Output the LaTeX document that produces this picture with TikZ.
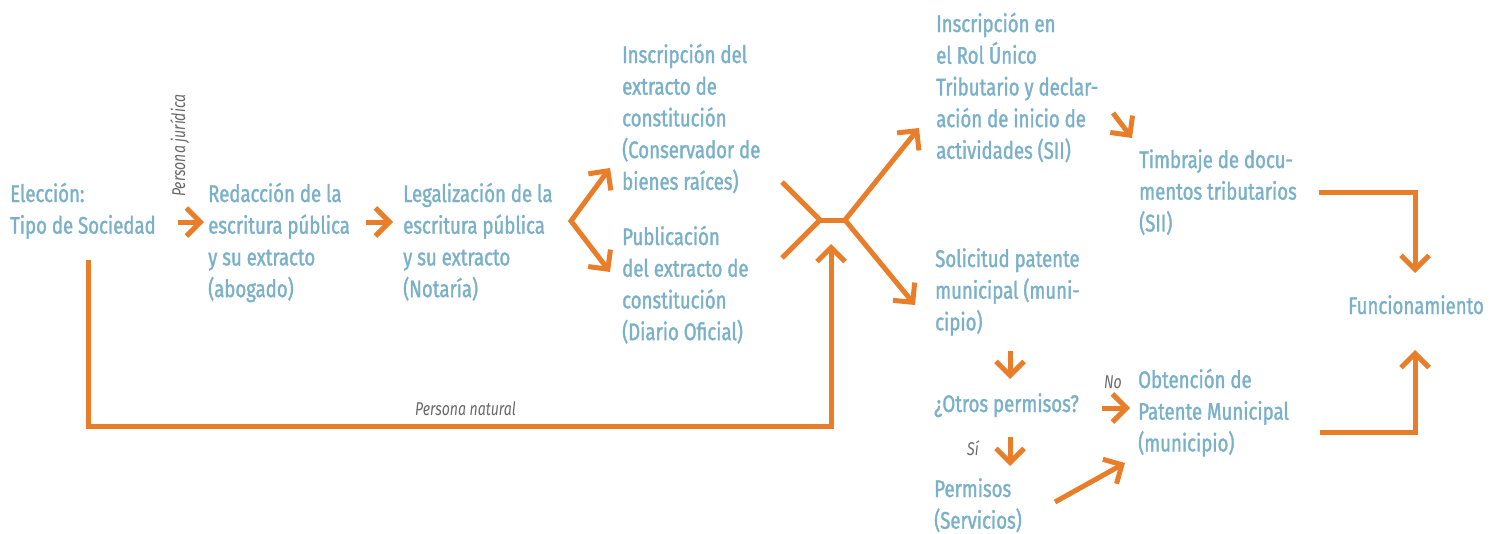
\documentclass[tikz,border=0pt]{standalone}
\usepackage{fontspec}
\setmainfont{Fira Sans}[FakeStretch=0.76]
\newfontfamily\stepfont{Fira Sans}[FakeStretch=0.775, FakeBold=1.4]
\usetikzlibrary{arrows.meta}
\definecolor{txtblue}{RGB}{122,176,200}
\definecolor{arrorange}{RGB}{232,125,42}
\definecolor{lblgray}{RGB}{105,105,105}
\newcommand{\mylines}[1]{\begin{tabular}[t]{@{}l@{}}#1\end{tabular}}
\begin{document}
\begin{tikzpicture}[x=1pt,y=-1pt,
  stepbox/.style={anchor=base west, inner sep=0pt, text=txtblue, font=\stepfont\fontsize{24}{31.7}\selectfont},
  lbl/.style={anchor=base west, inner sep=0pt, text=lblgray, font=\fontsize{18.5}{20}\selectfont\itshape},
  conn/.style={draw=arrorange, line width=5pt, line join=miter},
  arr/.style={conn, -{Straight Barb[length=14pt,width=28pt]}},
  arrboth/.style={conn, {Straight Barb[length=14pt,width=28pt]}-{Straight Barb[length=14pt,width=28pt]}}]
\useasboundingbox (0,0) rectangle (1503,533);
% step nodes
\node[stepbox] (eleccion) at (10,202) {\mylines{Elección:\\Tipo de Sociedad}};
\node[stepbox] (redaccion) at (208,202) {\mylines{Redacción de la\\escritura pública\\y su extracto\\(abogado)}};
\node[stepbox] (legal) at (403,202) {\mylines{Legalización de la\\escritura pública\\y su extracto\\(Notaría)}};
\node[stepbox] (inscr) at (622,63) {\mylines{Inscripción del\\extracto de\\constitución\\(Conservador de\\bienes raíces)}};
\node[stepbox] (public) at (622,245) {\mylines{Publicación\\del extracto de\\constitución\\(Diario Oficial)}};
\node[stepbox] (rut) at (936,32) {\mylines{Inscripción en\\el Rol Único\\Tributario y declar-\\ación de inicio de\\actividades (SII)}};
\node[stepbox] (timbre) at (1139,168) {\mylines{Timbraje de docu-\\mentos tributarios\\(SII)}};
\node[stepbox] (solic) at (935,267) {\mylines{Solicitud patente\\municipal (muni-\\cipio)}};
\node[stepbox] (otros) at (934,412) {¿Otros permisos?};
\node[stepbox] (permisos) at (934,497) {\mylines{Permisos\\(Servicios)}};
\node[stepbox] (obten) at (1138,388) {\mylines{Obtención de\\Patente Municipal\\(municipio)}};
\node[stepbox] (func) at (1348,314) {Funcionamiento};
% labels
\node[lbl, rotate=90] (pj) at (185,197) {Persona jurídica};
\node[lbl] (pn) at (415,415) {Persona natural};
\node[lbl] (no) at (1104,388) {No};
\node[lbl] (si) at (967,455) {Sí};
% connector points
\coordinate (e1) at (178,222); \coordinate (r1) at (204,222);
\coordinate (r2) at (366,222); \coordinate (l2) at (393,222);
\coordinate (forkv) at (571,221);
\coordinate (inscrin) at (610,168); \coordinate (publin) at (610,272);
\coordinate (mu) at (782,182); \coordinate (ml) at (782,258);
\coordinate (mj1) at (820,220); \coordinate (mj2) at (845,220);
\coordinate (rutin) at (919,128); \coordinate (solicin) at (915,305);
\coordinate (pn0) at (88,260); \coordinate (pn1) at (88,426);
\coordinate (pn2) at (831,426); \coordinate (pn3) at (831,244);
\coordinate (rutout) at (1113,113); \coordinate (timbrein) at (1132,138);
\coordinate (timbreout) at (1319,192); \coordinate (fc1) at (1415,192); \coordinate (funcin1) at (1415,273);
\coordinate (obtenout) at (1320,432); \coordinate (fc2) at (1415,432); \coordinate (funcin2) at (1415,350);
\coordinate (solicout) at (1010,351); \coordinate (otrosin) at (1010,379);
\coordinate (otrosout) at (1010,437); \coordinate (permisosin) at (1010,466);
\coordinate (otrosr) at (1102,408); \coordinate (obtenin) at (1130,408);
\coordinate (permisosout) at (1055,502); \coordinate (obtenin2) at (1125,463);
% connectors
\draw[arr] (e1) -- (r1);
\draw[arr] (r2) -- (l2);
\draw[arrboth] (inscrin) -- (forkv) -- (publin);
\draw[conn] (mu) -- (mj1) -- (ml);
\draw[conn] (mj1) -- (mj2);
\draw[arrboth] (rutin) -- (mj2) -- (solicin);
\draw[arr] (pn0) -- (pn1) -- (pn2) -- (pn3);
\draw[arr] (rutout) -- (timbrein);
\draw[arr] (timbreout) -- (fc1) -- (funcin1);
\draw[arr] (obtenout) -- (fc2) -- (funcin2);
\draw[arr] (solicout) -- (otrosin);
\draw[arr] (otrosout) -- (permisosin);
\draw[arr] (otrosr) -- (obtenin);
\draw[arr] (permisosout) -- (obtenin2);
\end{tikzpicture}
\end{document}
